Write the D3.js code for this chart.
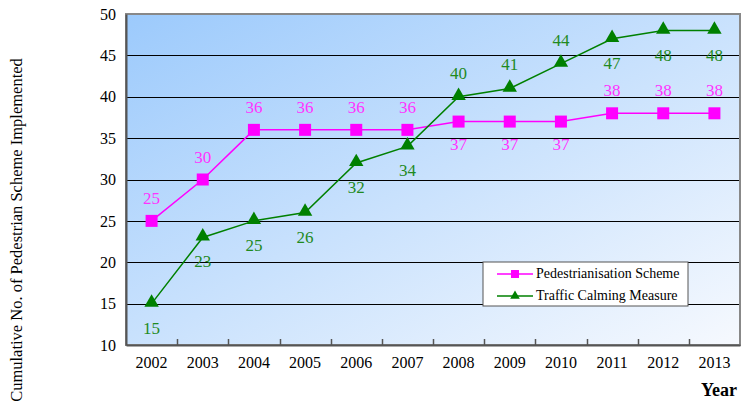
<!DOCTYPE html>
<html><head><meta charset="utf-8">
<script src="https://cdn.jsdelivr.net/npm/d3@7"></script>
<style>body{margin:0;background:#fff}svg{display:block}
svg text{font-family:"Liberation Serif","DejaVu Serif","Times New Roman",serif}</style>
</head><body>
<script>
const years = ["2002","2003","2004","2005","2006","2007","2008","2009","2010","2011","2012","2013"];
const pedestrian = [25,30,36,36,36,36,37,37,37,38,38,38];
const traffic = [15,23,25,26,32,34,40,41,44,47,48,48];
const pedLabelPos = ["a","a","a","a","a","a","b","b","b","a","a","a"];
const trafLabelPos = ["b","b","b","b","b","b","a","a","a","b","b","b"];
const yTicks = [10,15,20,25,30,35,40,45,50];
const seriesNames = ["Pedestrianisation Scheme","Traffic Calming Measure"];

const W=747,H=405;
const m={l:126,t:14,r:740,b:345};
const svg=d3.select("body").append("svg").attr("width",W).attr("height",H);
const defs=svg.append("defs");
const g=defs.append("linearGradient").attr("id","bg").attr("x1","0").attr("y1","0").attr("x2","1").attr("y2","1");
g.append("stop").attr("offset","0").attr("stop-color","#9ccafc");
g.append("stop").attr("offset","1").attr("stop-color","#f6f9fe");

const x=d3.scaleBand().domain(years).range([m.l,m.r]);
const y=d3.scaleLinear().domain([10,50]).range([m.b,m.t]);

svg.append("rect").attr("x",m.l).attr("y",m.t).attr("width",m.r-m.l).attr("height",m.b-m.t).attr("fill","url(#bg)");
svg.append("g").selectAll("line").data(yTicks.filter(v=>v>10&&v<50)).join("line")
 .attr("x1",m.l).attr("x2",m.r).attr("y1",d=>Math.round(y(d))+0.5).attr("y2",d=>Math.round(y(d))+0.5).attr("stroke","#000").attr("stroke-width",1);
svg.append("rect").attr("x",m.l).attr("y",m.t).attr("width",m.r-m.l).attr("height",m.b-m.t).attr("fill","none").attr("stroke","#888").attr("stroke-width",2);

const ya=svg.append("g").attr("transform",`translate(${m.l},0)`).call(d3.axisLeft(y).tickValues(yTicks).tickSize(0).tickPadding(10));
ya.select(".domain").attr("stroke","#555").attr("stroke-width",2);
ya.selectAll("text").attr("font-size",16).attr("fill","#000");
const xa=svg.append("g").attr("transform",`translate(0,${m.b})`).call(d3.axisBottom(x).tickSize(0).tickPadding(12));
xa.select(".domain").attr("stroke","#555").attr("stroke-width",2);
xa.selectAll("text").attr("font-size",16).attr("fill","#000");
ya.attr("font-family",null); xa.attr("font-family",null);
svg.append("g").selectAll("line").data(years.slice(1)).join("line")
 .attr("x1",d=>Math.round(x(d))+0.5).attr("x2",d=>Math.round(x(d))+0.5).attr("y1",m.b).attr("y2",m.b-6).attr("stroke","#555").attr("stroke-width",1.5);

const cx=d=>x(d)+x.bandwidth()/2;
const line=d3.line().x((d,i)=>cx(years[i])).y(d=>y(d));
svg.append("path").datum(pedestrian).attr("d",line).attr("fill","none").attr("stroke","#ff00ff").attr("stroke-width",1.5);
svg.append("path").datum(traffic).attr("d",line).attr("fill","none").attr("stroke","#008000").attr("stroke-width",1.5);
svg.append("g").selectAll("rect").data(pedestrian).join("rect")
 .attr("x",(d,i)=>cx(years[i])-6).attr("y",d=>y(d)-6).attr("width",12).attr("height",12).attr("fill","#ff00ff");
const tri=d3.symbol().type(d3.symbolTriangle).size(90);
svg.append("g").selectAll("path").data(traffic).join("path")
 .attr("d",tri).attr("transform",(d,i)=>`translate(${cx(years[i])},${y(d)-1})`).attr("fill","#008000");

svg.append("g").selectAll("text").data(pedestrian).join("text")
 .attr("x",(d,i)=>cx(years[i])).attr("y",(d,i)=>y(d)+(pedLabelPos[i]==="a"?-17:28))
 .attr("text-anchor","middle").attr("font-size",17).attr("fill","#ff33ff").text(d=>d);
svg.append("g").selectAll("text").data(traffic).join("text")
 .attr("x",(d,i)=>cx(years[i])).attr("y",(d,i)=>y(d)+(trafLabelPos[i]==="a"?-18:30))
 .attr("text-anchor","middle").attr("font-size",17).attr("fill","#1f8a1f").text(d=>d);

const lg=svg.append("g").attr("transform","translate(483,262)");
lg.append("rect").attr("width",205).attr("height",44).attr("fill","#fff").attr("stroke","#555").attr("stroke-width",1);
const cols=["#ff00ff","#008000"];
seriesNames.forEach((n,i)=>{
  const yy=12+i*22;
  lg.append("line").attr("x1",14).attr("x2",50).attr("y1",yy).attr("y2",yy).attr("stroke",cols[i]).attr("stroke-width",1.5);
  if(i===0) lg.append("rect").attr("x",28).attr("y",yy-4).attr("width",8).attr("height",8).attr("fill",cols[i]);
  else lg.append("path").attr("d",d3.symbol().type(d3.symbolTriangle).size(40)).attr("transform",`translate(32,${yy})`).attr("fill",cols[i]);
  lg.append("text").attr("x",53).attr("y",yy+4).attr("font-size",14).attr("fill","#000").text(n);
});

svg.append("text").attr("transform","translate(22,230) rotate(-90)").attr("text-anchor","middle")
 .attr("font-size",16.5).attr("fill","#000").text("Cumulative No. of Pedestrian Scheme Implemented");
svg.append("text").attr("x",719).attr("y",396).attr("text-anchor","middle").attr("font-size",18).attr("font-weight","bold").attr("fill","#000").text("Year");
</script>
</body></html>
